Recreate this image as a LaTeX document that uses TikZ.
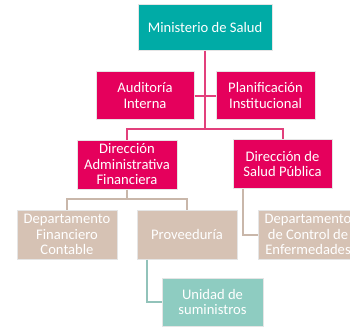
\documentclass[tikz,border=0pt]{standalone}
\usepackage{fontspec}
\setmainfont{Carlito}
\usepackage{tikz}
\usetikzlibrary{positioning}
\usetikzlibrary{calc}
\definecolor{verdeazul}{HTML}{00ABA6}
\definecolor{magenta}{HTML}{E5005C}
\definecolor{lineamag}{HTML}{E2407C}
\definecolor{arena}{HTML}{D6C2B4}
\definecolor{lineaarena}{HTML}{C9B7AA}
\definecolor{menta}{HTML}{8ECCC1}
\definecolor{lineamenta}{HTML}{92C3BA}
\tikzstyle{caja}=[rectangle,draw=white!80!gray,line width=1pt,text=white,
font=\fontsize{14.6}{15.5}\selectfont,align=center,inner sep=1pt]
\tikzstyle{cabeza}=[caja,fill=verdeazul,minimum width=134pt,minimum height=46pt]
\tikzstyle{direccion}=[caja,fill=magenta,minimum width=99pt,minimum height=48pt]
\tikzstyle{departamento}=[caja,fill=arena,minimum width=100pt,minimum height=49pt]
\tikzstyle{unidad}=[caja,fill=menta,minimum width=101pt,minimum height=48pt]
\tikzstyle{enlace}=[line width=2pt]

\begin{document}
\begin{tikzpicture}[x=1pt,y=-1pt]
\clip (0,0) rectangle (350,327);
\useasboundingbox (0,0) rectangle (350,327);
\coordinate (bus1) at (205,129);
\coordinate (bus2) at (127,199);
%Cajas
\node[cabeza] (min) at (205,27) {Ministerio de Salud};
\node[direccion,minimum width=98pt] (aud) at (145,95.5) {Auditoría\\Interna};
\node[direccion] (plan) at (265.5,95.5) {Planificación\\Institucional};
\node[direccion,minimum width=100pt,minimum height=49pt] (dadm) at (127,164.5) {Dirección\\Administrativa\\Financiera};
\node[direccion,minimum height=49pt] (dsp) at (282.5,164) {Dirección de\\Salud Pública};
\node[departamento] (dfin) at (67,234.5) {Departamento\\Financiero\\Contable};
\node[departamento] (prov) at (187,234.5) {Proveeduría};
\node[departamento] (dctrl) at (308,234.5) {Departamento\\de Control de\\Enfermedades};
\node[unidad] (unid) at (212.5,302) {Unidad de\\suministros};
%Conectores
\draw[enlace,lineamag] (min.south) -- (bus1);
\draw[enlace,lineamag] (aud.east) -- (plan.west);
\draw[enlace,lineamag] (bus1) -| (dadm.north);
\draw[enlace,lineamag] (bus1) -| (dsp.north);
\draw[enlace,lineaarena] (dadm.south) -- (bus2);
\draw[enlace,lineaarena] (bus2) -| (dfin.north);
\draw[enlace,lineaarena] (bus2) -| (prov.north);
\draw[enlace,lineaarena] ([xshift=-39.5pt]dsp.south) |- (dctrl.west);
\draw[enlace,lineamenta] ([xshift=-40pt]prov.south) |- (unid.west);
\end{tikzpicture}
\end{document}
